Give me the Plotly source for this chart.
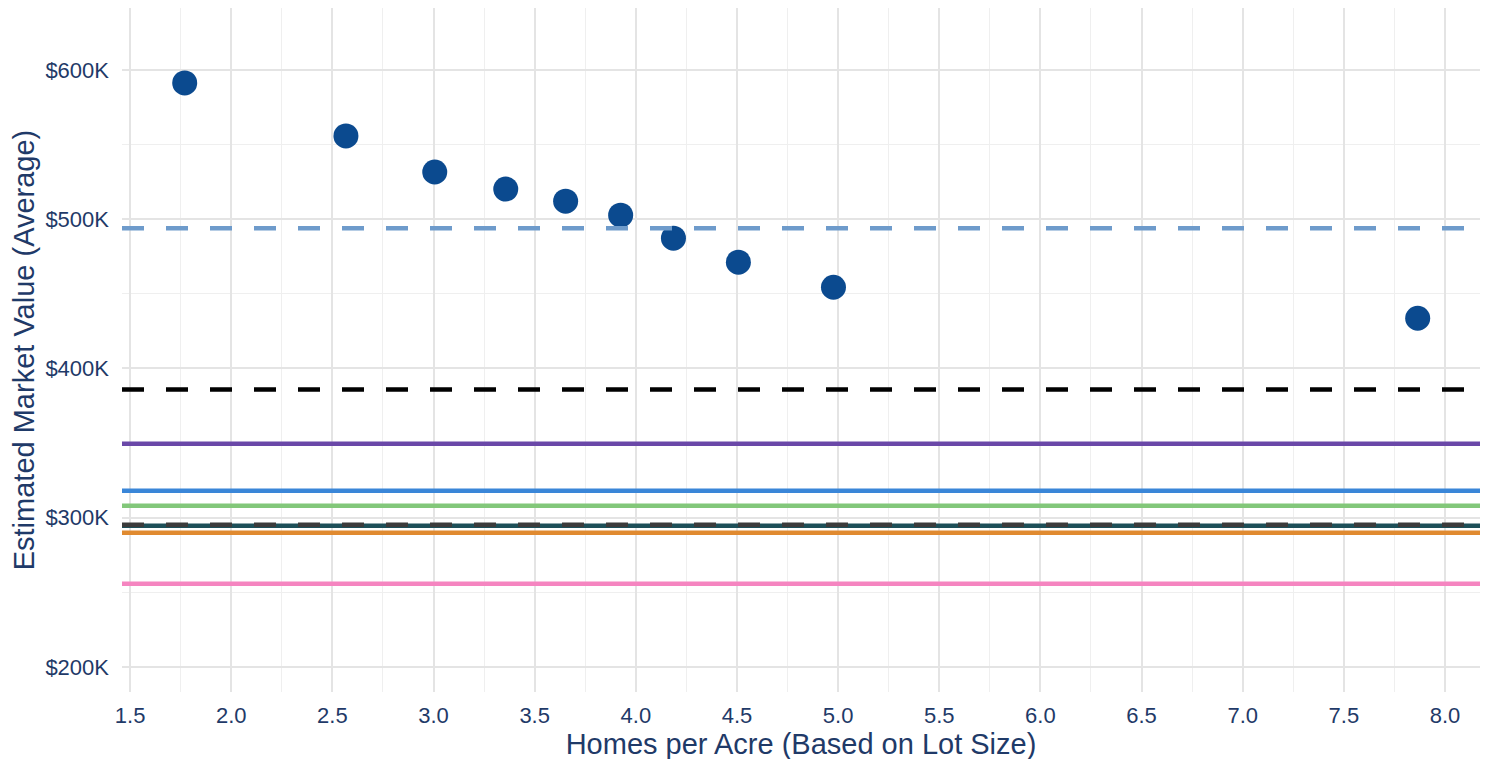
import plotly.graph_objects as go

# Data
homes_per_acre = [1.77, 2.567, 3.006, 3.357, 3.653, 3.925, 4.186, 4.507, 4.977, 7.865]
market_value = [591300, 555800, 531600, 520200, 512100, 502700, 487300, 471200, 454400, 433600]

ref_values = [494000, 385900, 349600, 318100, 308000, 294600, 295300, 289900, 255800]
ref_colors = ["#6e9bcb", "#000000", "#6a48a8", "#3a86d8", "#82c77a", "#1d4f58", "#3b3b3b", "#e08a30", "#f585c0"]
ref_dash = ["22px,22px", "22px,22px", "solid", "solid", "solid", "solid", "22px,22px", "solid", "solid"]

x_ticks = [1.5, 2.0, 2.5, 3.0, 3.5, 4.0, 4.5, 5.0, 5.5, 6.0, 6.5, 7.0, 7.5, 8.0]
y_ticks = [200000, 300000, 400000, 500000, 600000]
y_labels = ["$%dK" % (v // 1000) for v in y_ticks]

fig = go.Figure()

order = [0, 1, 2, 3, 4, 5, 7, 8, 6]
for i in order:
    fig.add_hline(y=ref_values[i], line=dict(color=ref_colors[i], width=4.5, dash=ref_dash[i]), layer="above")

fig.add_trace(go.Scatter(
    x=homes_per_acre, y=market_value, mode="markers",
    marker=dict(color="#0b4a8f", size=25, line=dict(width=0)),
    showlegend=False,
))

navy = "#1f3a68"
fig.update_layout(
    width=1491, height=759,
    margin=dict(l=114, r=19, t=0, b=75),
    paper_bgcolor="white", plot_bgcolor="white",
    font=dict(family="Liberation Sans, Arial, sans-serif", color=navy),
    showlegend=False,
)
fig.update_xaxes(
    range=[1.46, 8.173], tickvals=x_ticks, ticktext=["%.1f" % v for v in x_ticks],
    showgrid=True, gridcolor="#e4e4e4", gridwidth=1.5, zeroline=False,
    minor=dict(tickvals=[v + 0.25 for v in x_ticks], showgrid=True, gridcolor="#efefef", gridwidth=1),
    tickfont=dict(size=22, color=navy), ticks="", showline=False, ticklabelstandoff=8,
    title=dict(text="Homes per Acre (Based on Lot Size)", font=dict(size=29, color=navy), standoff=2),
)
fig.update_yaxes(
    range=[183200, 641500], tickvals=y_ticks, ticktext=y_labels,
    showgrid=True, gridcolor="#e4e4e4", gridwidth=1.5, zeroline=False,
    minor=dict(tickvals=[v + 50000 for v in y_ticks] + [150000], showgrid=True, gridcolor="#efefef", gridwidth=1),
    tickfont=dict(size=22, color=navy), ticks="", showline=False, ticklabelstandoff=12,
    title=dict(text="Estimated Market Value (Average)", font=dict(size=29, color=navy), standoff=10),
)

fig.write_html("out.html")
